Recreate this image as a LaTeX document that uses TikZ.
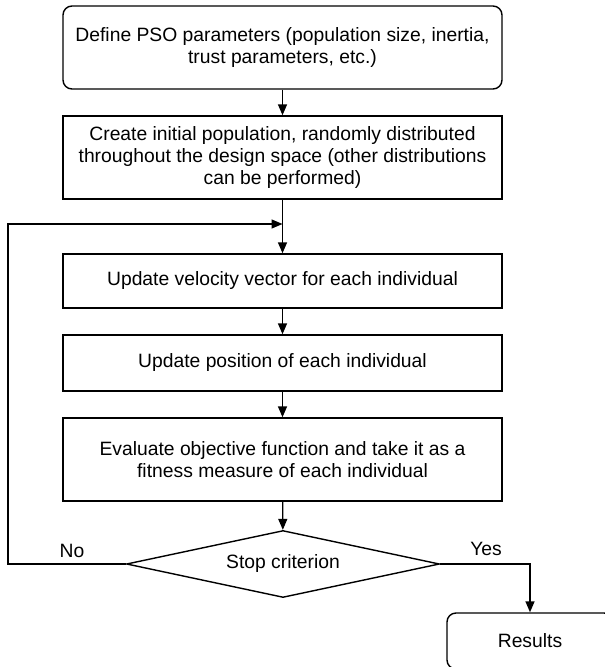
\documentclass[tikz,border=0pt]{standalone}
\usepackage{fontspec}
\setmainfont{Liberation Sans}
\usetikzlibrary{shapes.geometric,arrows.meta}

\begin{document}
\begin{tikzpicture}
   [x=1pt,y=-1pt,
   every node/.style={inner sep=0pt,align=center,font=\fontsize{19.3}{22}\selectfont},
   box/.style={draw,line width=1.4pt,minimum width=439pt},
   flow/.style={-{Triangle[length=11pt,width=9pt]},line width=1.4pt}]

   \useasboundingbox (0,0) rectangle (605,667);

   \node[box,rounded corners=9pt,minimum height=83pt] (params) at (282.5,47.5)
      {Define PSO parameters (population size, inertia,\\trust parameters, etc.)};
   \node[box,minimum height=83pt] (init) at (282.5,157.5)
      {Create initial population, randomly distributed\\throughout the design space (other distributions\\can be performed)};
   \node[box,minimum height=54pt] (velocity) at (282.5,281)
      {Update velocity vector for each individual};
   \node[box,minimum height=56pt] (position) at (282.5,363)
      {Update position of each individual};
   \node[box,minimum height=83pt] (fitness) at (282.5,459.5)
      {Evaluate objective function and take it as a\\fitness measure of each individual};
   \node[draw,diamond,aspect=4.67,line width=1.4pt,minimum width=313pt,minimum height=67pt] (stop) at (283,564)
      {Stop criterion};
   \node[draw,rounded corners=9pt,line width=1.4pt,minimum width=166pt,minimum height=56pt] (results) at (530,641)
      {Results};

   \coordinate (back) at (282.5,224);

   \draw[flow] (params) -- (init);
   \draw[line width=1.4pt] (init) -- (back);
   \draw[flow] (back) -- (velocity);
   \draw[flow] (velocity) -- (position);
   \draw[flow] (position) -- (fitness);
   \draw[flow] (fitness) -- (stop);

   \draw[flow] (stop.west) -- (8,564) |- (back);
   \node (no) at (72,551) {No};

   \draw[flow] (stop.east) -| (results.north);
   \node (yes) at (486,549) {Yes};
 \end{tikzpicture}
\end{document}
